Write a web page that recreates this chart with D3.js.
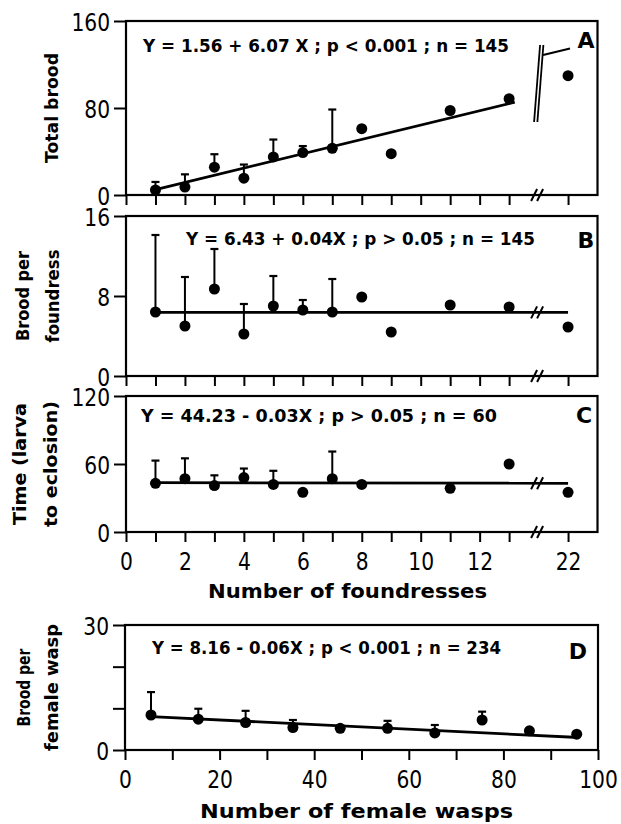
<!DOCTYPE html>
<html><head><meta charset="utf-8">
<script src="https://cdn.jsdelivr.net/npm/d3@7/dist/d3.min.js"></script>
<style>body{margin:0;background:#fff}</style>
</head><body>
<svg id="c" width="621" height="824" xmlns="http://www.w3.org/2000/svg"></svg>
<script>
// ---------- DATA ----------
// Panel A: total brood vs number of foundresses
const foundA = [1, 2, 3, 4, 5, 6, 7, 8, 9, 11, 13, 22];
const broodA = [4.6, 7.3, 25.6, 15.5, 35, 39, 43, 61, 38, 77.7, 88.5, 109.7];
const errA   = [12, 19, 37.5, 28, 51, 45, 78.6, null, null, null, null, null];
const lineA  = [[1, 5], [13.87, 85.3]];
// Panel B: brood per foundress
const foundB = [1, 2, 3, 4, 5, 6, 7, 8, 9, 11, 13, 22];
const broodB = [6.4, 5.0, 8.7, 4.2, 7.0, 6.6, 6.4, 7.9, 4.4, 7.1, 6.9, 4.9];
const errB   = [14.1, 9.9, 12.7, 7.2, 10.0, 7.6, 9.7, null, null, null, null, null];
const lineB  = [[1, 6.36], [22, 6.36]];
// Panel C: time (larva to eclosion)
const foundC = [1, 2, 3, 4, 5, 6, 7, 8, 11, 13, 22];
const timeC  = [43, 47, 41, 48, 42, 35, 47, 42, 38.5, 60, 35];
const errC   = [63, 65, 50, 56, 54, null, 71, null, null, null, null];
const lineC  = [[1, 43.5], [22, 43]];
// Panel D: brood per female wasp vs number of female wasps
const waspsD = [5.5, 15.5, 25.5, 35.5, 45.5, 55.5, 65.5, 75.5, 85.5, 95.5];
const broodD = [8.4, 7.4, 6.6, 5.4, 5.2, 5.2, 4.1, 7.2, 4.6, 3.8];
const errD   = [13.9, 9.9, 9.4, 7.2, null, 7.0, 6.0, 9.2, null, null];
const lineD  = [[5.5, 8.0], [96, 3.0]];

const foundTicks = [0,1,2,3,4,5,6,7,8,9,10,11,12,13,22];
const foundTickLabels = [0,2,4,6,8,10,12,22];
const waspTicks = [0,10,20,30,40,50,60,70,80,90,100];
const waspTickLabels = [0,20,40,60,80,100];
const yTicksA = [0,80,160], yTicksB = [0,8,16], yTicksC = [0,60,120];
const yTicksD = [0,10,20,30], yLabelsD = [0,30];

const eqA = "Y = 1.56 + 6.07 X ;  p < 0.001 ; n = 145";
const eqB = "Y = 6.43 + 0.04X ;  p > 0.05 ; n = 145";
const eqC = "Y = 44.23 - 0.03X ;  p > 0.05 ; n = 60";
const eqD = "Y = 8.16 - 0.06X ;  p < 0.001 ; n = 234";

// ---------- LAYOUT ----------
const svg = d3.select("#c");
const NUM = "'DejaVu Sans Condensed','DejaVu Sans',sans-serif";
const NUMSIZE = 25, SX = 0.9;
const LAB = "'DejaVu Sans',sans-serif";
const L = 126, R = 597.5, U = 29.47;
// broken x axis: 0..13 linear, 22 sits two units after 13
const xF = d3.scaleLinear().domain([0, 13, 22, 23]).range([L, L + 13*U, L + 15*U, L + 16*U]);
const xBreak = xF(17.5) - 1.5;

const panels = [
  {x: foundA, y: broodA, e: errA, line: lineA, y0: 195, y1: 21, dom: [0,160], ticks: yTicksA,
   eq: eqA, eqX: 143, eqY: 52, eqW: 366, letter: "A", lx: 586, ly: 48,
   ylab: ["Total brood"], ylx: [52], ylw: [110]},
  {x: foundB, y: broodB, e: errB, line: lineB, y0: 376, y1: 216, dom: [0,16], ticks: yTicksB,
   eq: eqB, eqX: 186, eqY: 245, eqW: 349, letter: "B", lx: 586, ly: 248, lineBreak: true,
   ylab: ["Brood per", "foundress"], ylx: [23, 53], ylw: [90, 93]},
  {x: foundC, y: timeC, e: errC, line: lineC, y0: 532, y1: 396, dom: [0,120], ticks: yTicksC,
   eq: eqC, eqX: 141, eqY: 422, eqW: 356, letter: "C", lx: 584, ly: 423, lineBreak: true,
   ylab: ["Time (larva", "to eclosion)"], ylx: [20, 51], ylw: [122, 126]}
];

function yAxisLabels(p) {
  p.ylab.forEach((t, i) => {
    const cy = (p.y0 + p.y1) / 2;
    svg.append("text").attr("transform", `translate(${p.ylx[i] + 6},${cy}) rotate(-90)`)
      .attr("text-anchor", "middle").attr("font-family", LAB).attr("font-weight", "bold")
      .attr("font-size", 17).attr("textLength", p.ylw[i]).attr("lengthAdjust", "spacingAndGlyphs")
      .text(t);
  });
}

function slashes(cx, cy) {
  [-3, 3].forEach(dx => {
    svg.append("line").attr("x1", cx + dx - 3).attr("y1", cy + 6).attr("x2", cx + dx + 3).attr("y2", cy - 6)
      .attr("stroke", "#000").attr("stroke-width", 2);
  });
}

function styleLeft(g) {
  g.select(".domain").remove();
  g.selectAll("line").attr("stroke", "#000").attr("stroke-width", 2);
  g.selectAll("text").attr("font-family", NUM).attr("font-size", NUMSIZE).attr("fill", "#000")
    .attr("dy", "0.36em").attr("x", -16 / SX).attr("transform", `scale(${SX},1)`);
}
function styleBottom(g, keepText) {
  g.select(".domain").remove();
  g.selectAll("line").attr("stroke", "#000").attr("stroke-width", 2);
  if (!keepText) g.selectAll("text").remove();
  else g.selectAll("text").attr("font-family", NUM).attr("font-size", NUMSIZE).attr("fill", "#000")
    .attr("dy", "0.88em").attr("transform", `scale(${SX},1)`);
}

function drawPoints(xs, ys, es, xS, yS) {
  const g = svg.append("g");
  xs.forEach((xv, i) => {
    if (es[i] != null) {
      g.append("line").attr("x1", xS(xv)).attr("x2", xS(xv)).attr("y1", yS(ys[i])).attr("y2", yS(es[i]))
        .attr("stroke", "#000").attr("stroke-width", 2);
      g.append("line").attr("x1", xS(xv) - 4).attr("x2", xS(xv) + 4).attr("y1", yS(es[i])).attr("y2", yS(es[i]))
        .attr("stroke", "#000").attr("stroke-width", 2.2);
    }
  });
  g.selectAll("circle.d").data(xs).enter().append("circle")
    .attr("cx", d => xS(d)).attr("cy", (d, i) => yS(ys[i])).attr("r", 5.5).attr("fill", "#000");
}

panels.forEach((p, pi) => {
  const yS = d3.scaleLinear().domain(p.dom).range([p.y0, p.y1]);
  svg.append("rect").attr("x", L).attr("y", p.y1).attr("width", R - L).attr("height", p.y0 - p.y1)
    .attr("fill", "none").attr("stroke", "#000").attr("stroke-width", 2.2);
  const gy = svg.append("g").attr("transform", `translate(${L},0)`)
    .call(d3.axisLeft(yS).tickValues(p.ticks).tickSize(12).tickPadding(4).tickFormat(d3.format("d")));
  styleLeft(gy);
  const gx = svg.append("g").attr("transform", `translate(0,${p.y0})`)
    .call(d3.axisBottom(xF).tickValues(foundTicks).tickSize(10).tickPadding(6)
      .tickFormat(d => foundTickLabels.includes(d) ? d : ""));
  styleBottom(gx, pi === 2);
  slashes(xBreak, p.y0);
  svg.append("path").attr("d", d3.line().x(d => xF(d[0])).y(d => yS(d[1]))(p.line))
    .attr("fill", "none").attr("stroke", "#000").attr("stroke-width", 2.8);
  if (p.lineBreak) slashes(xBreak, yS(p.line[1][1]));
  drawPoints(p.x, p.y, p.e, xF, yS);
  svg.append("text").attr("x", p.eqX).attr("y", p.eqY).attr("font-family", LAB).attr("font-weight", "bold")
    .attr("font-size", 17).attr("textLength", p.eqW).attr("lengthAdjust", "spacingAndGlyphs").text(p.eq);
  svg.append("text").attr("x", p.lx).attr("y", p.ly).attr("text-anchor", "middle").attr("font-family", LAB)
    .attr("font-weight", "bold").attr("font-size", 22).text(p.letter);
  yAxisLabels(p);
  if (pi === 0) {
    [0, 3.3].forEach(dx => {
      svg.append("line").attr("x1", xBreak - 3 + dx).attr("y1", 122).attr("x2", xBreak + 3 + dx).attr("y2", 45)
        .attr("stroke", "#000").attr("stroke-width", 1.8);
    });
    svg.append("line").attr("x1", xBreak + 6).attr("y1", 55).attr("x2", 570).attr("y2", 48.5)
      .attr("stroke", "#000").attr("stroke-width", 2);
  }
});

svg.append("text").attr("x", 208).attr("y", 598).attr("font-family", LAB).attr("font-weight", "bold")
  .attr("font-size", 20).attr("textLength", 279).attr("lengthAdjust", "spacingAndGlyphs").text("Number of foundresses");

// ---------- Panel D ----------
const xD = d3.scaleLinear().domain([0, 100]).range([125, 598]);
const yD = d3.scaleLinear().domain([0, 30]).range([750, 625]);
svg.append("rect").attr("x", 125).attr("y", 625).attr("width", 473).attr("height", 125)
  .attr("fill", "none").attr("stroke", "#000").attr("stroke-width", 2.2);
const gyD = svg.append("g").attr("transform", "translate(125,0)")
  .call(d3.axisLeft(yD).tickValues(yTicksD).tickSize(12).tickPadding(4).tickFormat(d => yLabelsD.includes(d) ? d : ""));
styleLeft(gyD);
const gxD = svg.append("g").attr("transform", "translate(0,750)")
  .call(d3.axisBottom(xD).tickValues(waspTicks).tickSize(10).tickPadding(6).tickFormat(d => waspTickLabels.includes(d) ? d : ""));
styleBottom(gxD, true);
svg.append("path").attr("d", d3.line().x(d => xD(d[0])).y(d => yD(d[1]))(lineD))
  .attr("fill", "none").attr("stroke", "#000").attr("stroke-width", 2.8);
drawPoints(waspsD, broodD, errD, xD, yD);
svg.append("text").attr("x", 152).attr("y", 654).attr("font-family", LAB).attr("font-weight", "bold")
  .attr("font-size", 17).attr("textLength", 349).attr("lengthAdjust", "spacingAndGlyphs").text(eqD);
svg.append("text").attr("x", 578).attr("y", 659).attr("text-anchor", "middle").attr("font-family", LAB)
  .attr("font-weight", "bold").attr("font-size", 22).text("D");
yAxisLabels({ylab: ["Brood per", "female wasp"], ylx: [24, 51.5], ylw: [78, 127], y0: 750, y1: 625});
svg.append("text").attr("x", 200).attr("y", 818).attr("font-family", LAB).attr("font-weight", "bold")
  .attr("font-size", 20).attr("textLength", 313).attr("lengthAdjust", "spacingAndGlyphs").text("Number of female wasps");
</script>
</body></html>
